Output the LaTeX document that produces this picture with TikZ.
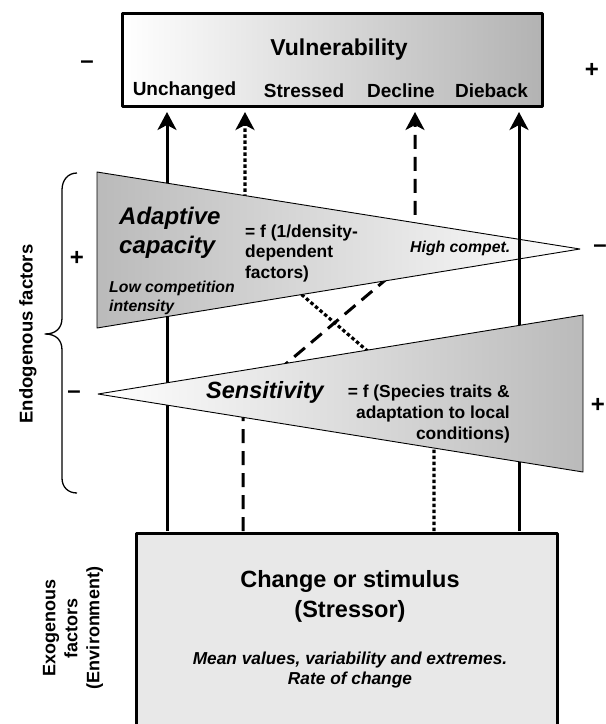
\documentclass[tikz,border=0pt]{standalone}
\usepackage{fontspec}
\setmainfont{Liberation Sans}
\usetikzlibrary{arrows.meta}

\begin{document}
\begin{tikzpicture}[x=1pt, y=-1pt, line join=round,
		>={Stealth[length=18pt,width=19pt,inset=5pt]},
		lbl/.style={font=\bfseries\fontsize{19}{20}\selectfont, inner sep=0pt},
		ttl/.style={font=\bfseries\itshape\fontsize{24}{29}\selectfont, inner sep=0pt, align=left},
		fx/.style={font=\bfseries\fontsize{17.4}{20.5}\selectfont, inner sep=0pt},
		note/.style={font=\bfseries\itshape\fontsize{15.8}{19}\selectfont, inner sep=0pt, align=left},
		sgn/.style={font=\bfseries\fontsize{24}{24}\selectfont, inner sep=0pt},
		side/.style={font=\bfseries\fontsize{18}{22}\selectfont, inner sep=0pt, rotate=90, align=center},
		solidarr/.style={line width=3pt, ->},
		dotarr/.style={line width=3.2pt, dash pattern=on 3.5pt off 2.5pt, ->},
		dasharr/.style={line width=3pt, dash pattern=on 14pt off 8pt, ->},
		wedge/.style={draw, line width=0.9pt}]
	\useasboundingbox (0,0) rectangle (606,724);
	
	% Hop tren va hop duoi
	\node[draw, line width=3pt, left color=white, right color=black!30, minimum width=420pt, minimum height=93pt, inner sep=0pt] (vul) at (332.5,60) {};
	\node[draw, line width=3pt, fill=black!9, minimum width=421pt, minimum height=230pt, inner sep=0pt, anchor=north] (stim) at (346.5,531.5) {};
	
	% Chan va dau cac mui ten
	\coordinate (fU) at (167,531);  \coordinate (tU) at (167,112);
	\coordinate (fS) at (434,531);  \coordinate (kS1) at (434,408);
	\coordinate (kS2) at (245,246); \coordinate (tS) at (245,112);
	\coordinate (fD) at (243,531);  \coordinate (kD1) at (243,400);
	\coordinate (kD2) at (415,255); \coordinate (tD) at (415,112);
	\coordinate (fB) at (519,531);  \coordinate (tB) at (519,112);
	
	% Cac mui ten (nam duoi hai tam giac)
	\draw[solidarr] (fU) -- (tU);
	\draw[dasharr] (fD) -- (kD1) -- (kD2) -- (tD);
	\draw[dotarr] (fS) -- (kS1) -- (kS2) -- (tS);
	
	% Tam giac Adaptive capacity
	\shade[wedge, left color=black!27, right color=white] (97,172) -- (580,249) -- (97,328) -- cycle;
	\draw[solidarr] (fB) -- (tB);
	
	% Tam giac Sensitivity
	\shade[wedge, left color=white, right color=black!27] (98,394) -- (583,315) -- (583,472) -- cycle;
	
	% Nhan hop tren
	\node[lbl, font=\bfseries\fontsize{23}{23}\selectfont] (vtitle) at (339,50) {Vulnerability};
	\node[lbl] (unch) at (184.5,91) {Unchanged};
	\node[lbl] (stre) at (304,91) {Stressed};
	\node[lbl] (decl) at (401,91) {Decline};
	\node[lbl] (dieb) at (491.5,91) {Dieback};
	\node[sgn] (mtop) at (87,65) {–};
	\node[sgn] (ptop) at (592,70) {+};
	
	% Nhan trong tam giac
	\node[ttl, anchor=west] (adc) at (119,233) {Adaptive\\capacity};
	\node[fx, align=left, anchor=west] (adf) at (245,253) {= f (1/density-\\dependent\\factors)};
	\node[note, anchor=west] (hic) at (410,248) {High compet.};
	\node[note, anchor=west] (loc) at (109,298) {Low competition\\intensity};
	\node[ttl, font=\bfseries\itshape\fontsize{23.5}{29}\selectfont, anchor=west] (sen) at (206,392) {Sensitivity};
	\node[fx, font=\bfseries\fontsize{17.4}{21}\selectfont, align=right, anchor=east] (senf) at (510,414) {= f (Species traits \&\\adaptation to local\\conditions)};
	\node[sgn] (padc) at (77,258) {+};
	\node[sgn] (madc) at (600,249) {–};
	\node[sgn] (msen) at (74,395) {–};
	\node[sgn] (psen) at (598,405) {+};
	
	% Ngoac nhon va nhan ben trai
	\draw[line width=1.3pt] (77,173) .. controls (68,173) and (62,180) .. (62,190) -- (62,318)
		.. controls (62,328) and (56,334) .. (45,334) .. controls (56,334) and (62,340) .. (62,350)
		-- (62,478) .. controls (62,487) and (68,493) .. (77,493);
	\node[side, font=\bfseries\fontsize{18.5}{22}\selectfont] (endo) at (28,334) {Endogenous factors};
	\node[side] (exo) at (73,628) {Exogenous\\factors\\(Environment)};
	
	% Nhan hop duoi
	\node[font=\bfseries\fontsize{23.5}{30}\selectfont, align=center, inner sep=0pt] (chg) at (350,596) {Change or stimulus\\(Stressor)};
	\node[font=\bfseries\itshape\fontsize{17.3}{20}\selectfont, align=center, inner sep=0pt] (mvr) at (350,670) {Mean values, variability and extremes.\\Rate of change};
\end{tikzpicture}
\end{document}
